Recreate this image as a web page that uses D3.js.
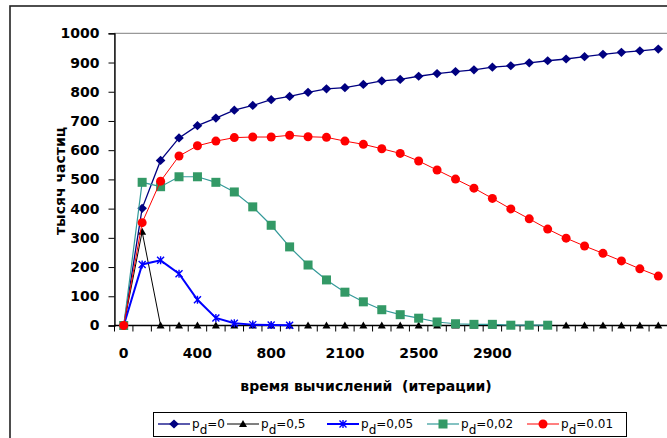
<!DOCTYPE html>
<html>
<head>
<meta charset="utf-8">
<script src="https://cdn.jsdelivr.net/npm/d3@7"></script>
<style>
  body { margin: 0; background: #fff; }
  svg { display: block; }
  text { font-family: "DejaVu Sans", sans-serif; }
</style>
</head>
<body>
<div id="root"></div>
<script>
const width = 667;
const height = 438;

// x categories (only every 4th one carries a label on the original)
const xLabels = [
  "0", "", "", "", "400", "", "", "", "800", "", "", "",
  "2100", "", "", "", "2500", "", "", "", "2900", "", "", "",
  "", "", "", "", "", ""
];
const yTicks = [0, 100, 200, 300, 400, 500, 600, 700, 800, 900, 1000];

const pd0 = [0, 401, 565, 642, 684, 710, 737, 753, 773, 784, 798, 810, 814, 825, 837,
  842, 853, 862, 869, 875, 884, 889, 899, 906, 912, 920, 928, 935, 940, 946];
const pd05 = [0, 321, 0, 0, 0, 0, 0, 0, 0, 0, 0, 0, 0, 0, 0,
  0, 0, 0, 0, 0, 0, 0, 0, 0, 0, 0, 0, 0, 0, 0];
const pd005 = [0, 209, 223, 177, 88, 26, 8, 3, 2, 1];
const pd002 = [0, 490, 475, 509, 509, 490, 457, 406, 343, 269, 207, 156, 114, 81, 54,
  37, 25, 12, 6, 4, 4, 1, 1, 1];
const pd001 = [0, 352, 494, 580, 615, 631, 643, 645, 645, 651, 646, 644, 631, 620, 605,
  589, 563, 532, 501, 470, 435, 399, 365, 330, 299, 272, 247, 221, 194, 169];

const seriesNames = ["0", "0,5", "0,05", "0,02", "0.01"];

const series = [
  { name: seriesNames[0], values: pd0, line: "#000080", fill: "#000080", marker: "diamond", lw: 1.3 },
  { name: seriesNames[1], values: pd05, line: "#000000", fill: "#000000", marker: "triangle", lw: 1 },
  { name: seriesNames[2], values: pd005, line: "#0000ff", fill: "#0000ff", marker: "star", lw: 2 },
  { name: seriesNames[3], values: pd002, line: "#339999", fill: "#339966", marker: "square", lw: 1.2 },
  { name: seriesNames[4], values: pd001, line: "#ff0000", fill: "#ff0000", marker: "circle", lw: 1 },
];

const plot = { left: 114.5, right: 667.5, top: 33.3, bottom: 325.5 };

const svg = d3.select("#root")
  .append("svg")
  .attr("width", width)
  .attr("height", height);

// outer chart frame
svg.append("rect")
  .attr("x", 10).attr("y", 6)
  .attr("width", 680).attr("height", 460)
  .attr("fill", "#fff")
  .attr("stroke", "#222")
  .attr("stroke-width", 1.6);

const x = d3.scaleBand()
  .domain(d3.range(xLabels.length))
  .range([plot.left, plot.right]);
const y = d3.scaleLinear()
  .domain([0, 1000])
  .range([plot.bottom, plot.top]);
const cx = (i) => x(i) + x.bandwidth() / 2;

// plot area border
svg.append("rect")
  .attr("x", plot.left).attr("y", plot.top)
  .attr("width", plot.right - plot.left).attr("height", plot.bottom - plot.top)
  .attr("fill", "#fff")
  .attr("stroke", "#808080")
  .attr("stroke-width", 1);

// y axis
const yAxis = svg.append("g")
  .attr("transform", `translate(${plot.left},0)`)
  .call(d3.axisLeft(y).tickValues(yTicks).tickFormat(d3.format("d")).tickSize(6).tickPadding(9));
yAxis.select(".domain").attr("stroke", "#000").attr("stroke-width", 1.3);
yAxis.selectAll(".tick line").attr("stroke", "#000");
yAxis.selectAll("text")
  .attr("fill", "#000")
  .style("font-family", "'DejaVu Sans', sans-serif")
  .style("font-size", "14px")
  .style("font-weight", "bold");

// x axis: ticks sit between categories
const xAxis = svg.append("g");
xAxis.append("line")
  .attr("x1", plot.left).attr("x2", plot.right)
  .attr("y1", plot.bottom).attr("y2", plot.bottom)
  .attr("stroke", "#000").attr("stroke-width", 1.3);
xAxis.selectAll(".xtick")
  .data(d3.range(xLabels.length + 1))
  .enter()
  .append("line")
  .attr("x1", (i) => plot.left + i * x.step())
  .attr("x2", (i) => plot.left + i * x.step())
  .attr("y1", plot.bottom)
  .attr("y2", plot.bottom + 6)
  .attr("stroke", "#000");
xAxis.selectAll(".xlabel")
  .data(xLabels.map((label, i) => ({ label, i })).filter((d) => d.label))
  .enter()
  .append("text")
  .attr("x", (d) => cx(d.i))
  .attr("y", 358)
  .attr("text-anchor", "middle")
  .style("font-size", "14px")
  .style("font-weight", "bold")
  .text((d) => d.label);

// axis titles
svg.append("text")
  .attr("x", 366)
  .attr("y", 391)
  .attr("text-anchor", "middle")
  .style("font-size", "14px")
  .style("font-weight", "bold")
  .attr("xml:space", "preserve")
  .text("время вычислений  (итерации)");

svg.append("text")
  .attr("transform", "translate(65,181) rotate(-90)")
  .attr("text-anchor", "middle")
  .style("font-size", "14px")
  .style("font-weight", "bold")
  .text("тысяч частиц");

function drawMarker(g, type, fill) {
  if (type === "diamond") {
    g.append("path").attr("d", "M0,-4.6L4.8,0L0,4.6L-4.8,0Z").attr("fill", fill);
  } else if (type === "triangle") {
    g.append("path").attr("d", "M0,-4L4,3L-4,3Z").attr("fill", fill);
  } else if (type === "square") {
    g.append("rect").attr("x", -4.5).attr("y", -4.5).attr("width", 9).attr("height", 9).attr("fill", fill);
  } else if (type === "circle") {
    g.append("circle").attr("r", 4.5).attr("fill", fill);
  } else if (type === "star") {
    g.append("path")
      .attr("d", "M-3.5,-3.5L3.5,3.5M-3.5,3.5L3.5,-3.5M0,-4L0,4")
      .attr("stroke", fill)
      .attr("stroke-width", 1.4)
      .attr("fill", "none");
  }
}

const line = d3.line()
  .x((d, i) => cx(i))
  .y((d) => y(d));

series.forEach((s) => {
  const g = svg.append("g");
  g.append("path")
    .datum(s.values)
    .attr("d", line)
    .attr("fill", "none")
    .attr("stroke", s.line)
    .attr("stroke-width", s.lw);
  g.selectAll(".m")
    .data(s.values)
    .enter()
    .append("g")
    .attr("transform", (d, i) => `translate(${cx(i)},${y(d)})`)
    .each(function () {
      drawMarker(d3.select(this), s.marker, s.fill);
    });
});

// legend
const legendX = [158, 227, 327, 427, 527];
const legend = svg.append("g");
legend.append("rect")
  .attr("x", 153.5).attr("y", 412.5)
  .attr("width", 473).attr("height", 24)
  .attr("fill", "#fff")
  .attr("stroke", "#000")
  .attr("stroke-width", 1);

series.forEach((s, k) => {
  const item = legend.append("g").attr("transform", `translate(${legendX[k]},424)`);
  item.append("line")
    .attr("x1", 0).attr("x2", 32)
    .attr("stroke", s.line)
    .attr("stroke-width", s.lw);
  drawMarker(item.append("g").attr("transform", "translate(16,0)"), s.marker, s.fill);
  const t = item.append("text")
    .attr("x", 34)
    .attr("y", 4)
    .style("font-size", "12px");
  t.append("tspan").text("p");
  t.append("tspan").attr("dy", 6).text("d");
  t.append("tspan").attr("dy", -6).text("=" + s.name);
});
</script>
</body>
</html>
